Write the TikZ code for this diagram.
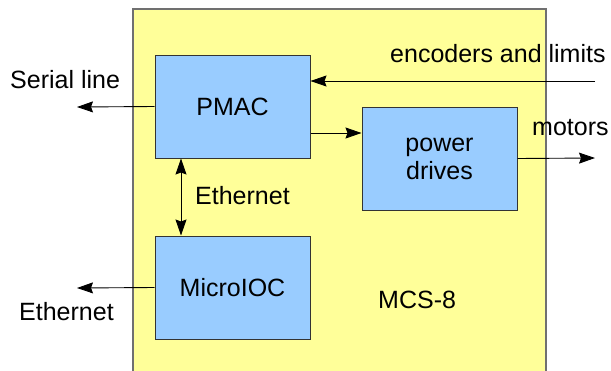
\documentclass[tikz,border=0pt]{standalone}
\usepackage{fontspec}
\setmainfont{Liberation Sans}
\usetikzlibrary{arrows.meta}
\definecolor{bgyellow}{HTML}{FFFF99}
\definecolor{boxblue}{HTML}{99CCFF}
\definecolor{outerline}{HTML}{707070}
\definecolor{boxline}{HTML}{333333}
\tikzset{
  unit/.style={draw=boxline, fill=boxblue, line width=1pt, inner sep=0pt, align=center,
    font=\fontsize{25}{28}\selectfont},
  lbl/.style={inner sep=0pt, anchor=base west, font=\fontsize{25}{28}\selectfont},
  tipshape/.tip={Stealth[length=16pt,width=11pt,inset=2pt]},
  sig/.style={line width=0.9pt, -tipshape},
  sigboth/.style={line width=0.9pt, tipshape-tipshape}
}
\begin{document}
\begin{tikzpicture}[x=1pt,y=-1pt]
\useasboundingbox (0,0) rectangle (611,370);
\fill[white] (0,0) rectangle (611,370);
\draw[draw=outerline, fill=bgyellow, line width=1.2pt] (133,380) -- (133,9) -- (546,9) -- (546,380);

\node[unit, minimum width=155pt, minimum height=103pt] (pmac) at (232.5,106.5) {PMAC};
\node[unit, minimum width=155pt, minimum height=103pt] (drives) at (439.5,158.5) {power\\drives};
\node[unit, minimum width=155pt, minimum height=103pt] (mioc) at (232.5,287.5) {MicroIOC};

\node[lbl] (serial) at (10,88) {Serial line};
\node[lbl] (enclbl) at (390,62) {encoders and limits};
\node[lbl] (motlbl) at (532,135) {motors};
\node[lbl] (ethlbl) at (195,204) {Ethernet};
\node[lbl] (ethout) at (19,320) {Ethernet};
\node[lbl] (mcs) at (378,308) {MCS-8};

\coordinate (serialend) at (77,107);
\coordinate (encstart) at (595,81);
\coordinate (drvlink) at (0,133);
\coordinate (motend) at (595,158);
\coordinate (ethx) at (181,0);
\coordinate (ethend) at (77,288);

\draw[sig] (pmac.west) -- (serialend);
\draw[sig] (encstart) -- (encstart -| pmac.east);
\draw[sig] (drvlink -| pmac.east) -- (drvlink -| drives.west);
\draw[sig] (drives.east) -- (motend);
\draw[sigboth] (pmac.south -| ethx) -- (mioc.north -| ethx);
\draw[sig] (mioc.west) -- (ethend);
\end{tikzpicture}
\end{document}
